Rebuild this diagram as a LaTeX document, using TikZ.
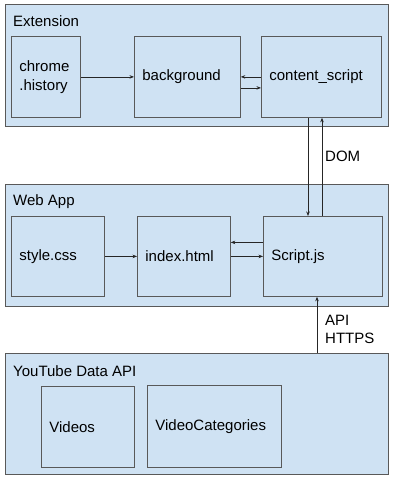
\documentclass[tikz,border=0pt]{standalone}
\usepackage{fontspec}
\setmainfont{Liberation Sans}
\usetikzlibrary{arrows.meta}
\definecolor{boxblue}{HTML}{CFE2F3}
\definecolor{edge}{HTML}{595959}
\begin{document}
\begin{tikzpicture}[x=1pt,y=-1pt,
  grp/.style={draw=edge, fill=boxblue, line width=0.8pt},
  comp/.style={draw=edge, fill=boxblue, line width=0.8pt, inner xsep=8pt, inner ysep=0pt,
    align=left, anchor=north west, font=\fontsize{15}{19}\selectfont},
  lbl/.style={anchor=west, inner sep=0pt, align=left, font=\fontsize{15}{18}\selectfont},
  arr/.style={-{Stealth[length=4.5pt,width=3.5pt]}, line width=0.6pt, draw=black!85}]
\useasboundingbox (0,0) rectangle (400,483);
% groups
\draw[grp] (5,4) rectangle (388,126);
\draw[grp] (5,184) rectangle (388,306);
\draw[grp] (5,353) rectangle (388,474);
\node[lbl] (ext) at (13,21) {Extension};
\node[lbl] (web) at (13,202) {Web App};
\node[lbl] (ytl) at (13,371) {YouTube Data API};
% Extension
\node[comp, text width=53pt, minimum height=81pt] (ch) at (11,36) {chrome\\.history};
\node[comp, text width=90pt, minimum height=81pt] (bg) at (134,36) {background};
\node[comp, text width=104pt, minimum height=81pt] (cs) at (261,36) {content\_script};
% Web App
\node[comp, text width=77pt, minimum height=80pt] (st) at (11,216) {style.css};
\node[comp, text width=77pt, minimum height=80pt] (ix) at (137,216) {index.html};
\node[comp, text width=103pt, minimum height=80pt] (sj) at (263,216) {Script.js};
% YouTube
\node[comp, text width=77pt, minimum height=81pt] (vd) at (41,386) {Videos};
\node[comp, text width=118pt, minimum height=82pt] (vc) at (147,385) {VideoCategories};
\coordinate (yt) at (317,353);
% connectors
\draw[arr] (ch.east) -- (bg.west);
\draw[arr] (cs.west) -- (cs.west -| bg.east);
\draw[arr] ([yshift=-11pt]bg.east) -- ([yshift=-11pt]bg.east -| cs.west);
\draw[arr] (st.east) -- (ix.west);
\draw[arr] ([yshift=14pt]sj.west) -- ([yshift=14pt]sj.west -| ix.east);
\draw[arr] (ix.east) -- (ix.east -| sj.west);
\coordinate (dn) at (308,0);
\coordinate (up) at (322,0);
\draw[arr] (cs.south -| dn) -- (sj.north -| dn);
\draw[arr] (sj.north -| up) -- (cs.south -| up);
\draw[arr] (yt) -- (yt |- sj.south);
\node[lbl] (dom) at (325,156) {DOM};
\node[lbl, anchor=north west] (api) at (325,315) {API\\HTTPS};
\end{tikzpicture}
\end{document}
